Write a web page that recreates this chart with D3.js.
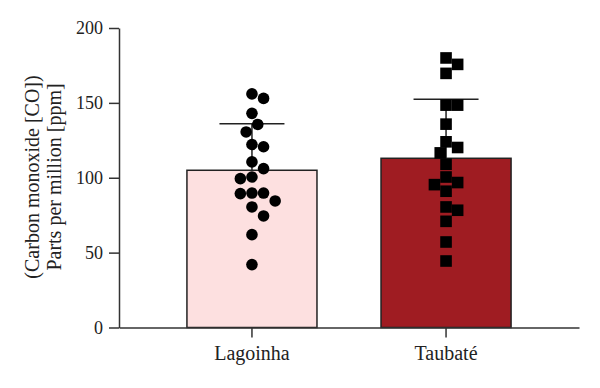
<!DOCTYPE html>
<meta charset="utf-8">
<head>
<style>
body { margin: 0; background: #fff; }
text { font-family: 'Liberation Serif', 'DejaVu Serif', serif; fill: #222; }
.axis path, .axis line { stroke: #333; stroke-width: 1.5px; }
.axis text { font-size: 18px; font-family: 'Liberation Serif', serif; fill: #222; }
.xaxis text { font-size: 20px; }
</style>
<script src="https://cdnjs.cloudflare.com/ajax/libs/d3/7.8.5/d3.min.js"></script>
</head>
<body>
<svg id="chart"></svg>
<script>

// data
var categories = ['Lagoinha', 'Taubaté']
var means = [105, 113]
var sds = [31, 39.5]
var lagoinha = [156, 153, 143, 135.6, 130.6, 122.2, 120.7, 110.6, 106.1, 100.5, 99.4, 89.8, 89.8, 89.4, 84.5, 80.5, 74.5, 62, 42]
var taubate = [180, 175.7, 169.7, 148.5, 148.5, 135.8, 124, 120.2, 116.6, 109, 100.5, 96.8, 95.4, 91, 80.5, 78.3, 70.9, 57.1, 44.4]
var yTicks = [0, 50, 100, 150, 200]
var barColors = ['#fde0e0', '#9f1c22']

var width = 600, height = 388
var sym = 11.6   // marker size

var svg = d3.select('#chart')
  .attr('width', width)
  .attr('height', height)

var y = d3.scaleLinear().domain([0, 200]).range([327.5, 28])
var x = d3.scaleBand().domain(categories)
  .range([119, 579])
  .paddingInner(0.33)
  .paddingOuter(0.35)

// bars
svg.selectAll('.bar')
  .data(categories)
  .enter().append('rect')
  .attr('class', 'bar')
  .attr('x', (d) => x(d))
  .attr('width', x.bandwidth())
  .attr('y', (d, i) => y(means[i]))
  .attr('height', (d, i) => y(0) - y(means[i]))
  .style('fill', (d, i) => barColors[i])
  .style('stroke', '#222')
  .style('stroke-width', 1.5)

// error bars (upper only)
var capW = 65
categories.forEach(function (c, i) {
  var cx = x(c) + x.bandwidth() / 2
  svg.append('line')
    .attr('x1', cx).attr('x2', cx)
    .attr('y1', y(means[i])).attr('y2', y(means[i] + sds[i]))
    .style('stroke', '#222').style('stroke-width', 1.5)
  svg.append('line')
    .attr('x1', cx - capW / 2).attr('x2', cx + capW / 2)
    .attr('y1', y(means[i] + sds[i])).attr('y2', y(means[i] + sds[i]))
    .style('stroke', '#222').style('stroke-width', 1.5)
})

// simple beeswarm: put each point at the nearest free slot to the centre
function swarm(values, cx) {
  var step = sym / 2
  var placed = []
  values.forEach(function (v) {
    var py = y(v)
    var order = [0, 1, -1, 2, -2, 3, -3, 4, -4, 5, -5]
    for (var j = 0; j < order.length; j++) {
      var px = cx + order[j] * step
      var hit = placed.some((p) => Math.hypot(p.x - px, p.y - py) < sym * 0.98)
      if (!hit) { placed.push({x: px, y: py}); break }
    }
  })
  return placed
}

var dotsL = swarm(lagoinha, x('Lagoinha') + x.bandwidth() / 2)
var dotsT = swarm(taubate, x('Taubaté') + x.bandwidth() / 2)

svg.selectAll('.dot')
  .data(dotsL)
  .enter().append('circle')
  .attr('class', 'dot')
  .attr('cx', (d) => d.x)
  .attr('cy', (d) => d.y)
  .attr('r', sym / 2)
  .style('fill', '#000')

svg.selectAll('.sq')
  .data(dotsT)
  .enter().append('rect')
  .attr('class', 'sq')
  .attr('x', (d) => d.x - sym / 2)
  .attr('y', (d) => d.y - sym / 2)
  .attr('width', sym)
  .attr('height', sym)
  .style('fill', '#000')

// axes
svg.append('g')
  .attr('class', 'axis')
  .attr('transform', 'translate(119,0)')
  .call(d3.axisLeft(y).tickValues(yTicks).tickSize(10).tickPadding(6).tickSizeOuter(0))

svg.append('g')
  .attr('class', 'axis xaxis')
  .attr('transform', 'translate(0,' + y(0) + ')')
  .call(d3.axisBottom(x).tickSize(10).tickPadding(8).tickSizeOuter(0))

// y label
var yl = svg.append('text')
  .attr('transform', 'translate(0,177) rotate(-90)')
  .attr('text-anchor', 'middle')
  .style('font-size', '20px')
yl.append('tspan').attr('x', 0).attr('y', 39).text('(Carbon monoxide [CO])')
yl.append('tspan').attr('x', 0).attr('y', 61).text('Parts per million [ppm]')

</script>
</body>
